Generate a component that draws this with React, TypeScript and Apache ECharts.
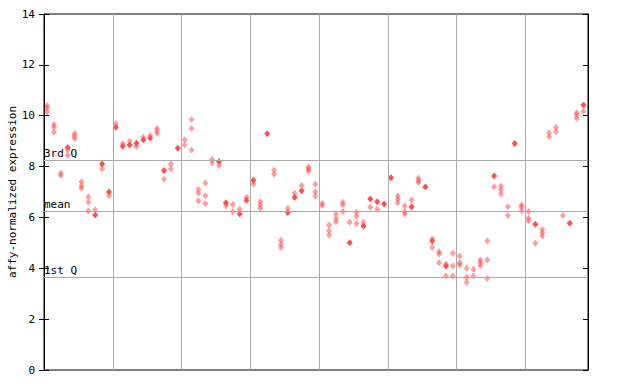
import React, { useEffect, useRef } from "react";
import * as echarts from "echarts";

// per-column values (checkered / light markers)
const hollowValues: number[][] = [
  [10.4, 10.3, 10.15], [9.65, 9.55, 9.35], [7.75, 7.65], [8.65, 8.45], [9.3, 9.2, 9.1],
  [7.4, 7.25, 7.15], [6.8, 6.6, 6.25], [6.3], [7.9], [6.85],
  [9.68], [8.9], [9.0], [8.78], [9.15],
  [9.22], [9.5, 9.4, 9.3], [7.5], [8.1, 7.9], [],
  [9.05, 8.85], [9.85, 9.5, 8.65], [7.1, 6.95, 6.65], [7.35, 6.85, 6.55], [8.28, 8.15],
  [8.03], [6.46], [6.51, 6.23], [6.32], [6.79],
  [7.3], [6.62, 6.49, 6.36], [], [7.86, 7.7], [5.1, 4.94, 4.82],
  [6.36], [6.95], [7.26], [7.98, 7.9, 7.82], [7.3, 7.01, 6.84],
  [6.55, 6.48], [5.7, 5.48, 5.31], [6.13, 5.96, 5.83], [6.6, 6.5, 6.23], [5.81],
  [6.2, 6.06, 5.76], [5.81], [6.4], [6.32], [],
  [], [6.84, 6.71, 6.58], [6.45, 6.23, 6.13], [6.69], [7.54, 7.45, 7.37],
  [], [5.15, 4.82], [4.65, 4.56, 4.22], [4.17, 3.7], [4.59, 4.09, 3.7],
  [4.48, 4.22, 4.13], [4.0, 3.65, 3.45], [3.96, 3.7], [4.33, 4.22, 4.1], [5.07, 4.33, 3.6],
  [7.21], [7.24, 7.08, 6.92], [6.42, 6.08], [], [6.49, 6.42, 6.26],
  [6.23, 5.97, 5.87], [4.98], [5.53, 5.4, 5.27], [9.33, 9.17], [9.54, 9.37],
  [6.08], [], [10.12, 10.03, 9.9], [10.17],
];

// per-column solid marker (null = none)
const solidValues: (number | null)[] = [
  null, null, null, 8.75, null, null, null, 6.1, 8.1, 7.0,
  9.55, 8.8, 8.85, 8.92, 9.05, 9.12, null, 7.85, null, 8.72,
  null, null, null, null, null, 8.19, 6.58, null, 6.13, 6.68,
  7.46, null, 9.29, null, null, 6.19, 6.78, 7.05, null, null,
  null, null, null, null, 5.0, null, 5.66, 6.72, 6.62, 6.53,
  7.56, null, null, 6.42, null, 7.2, 5.07, null, 4.09, null,
  null, null, null, null, null, 7.63, null, null, 8.91, null,
  null, 5.73, null, null, null, null, 5.77, null, 10.42,
];

const groupBoundaries = [10, 20, 30, 40, 50, 60, 70];
const refLines = [
  { name: "3rd Q", value: 8.25 },
  { name: "mean", value: 6.24 },
  { name: "1st Q", value: 3.64 },
];
const yTicks = { min: 0, max: 14, interval: 2 };
const yAxisName = "affy-normalized expression";

const RED = "#ff5050";
const GRID = "#aaaaaa";
const FONT = "DejaVu Sans Mono";

export default function App() {
  const ref = useRef<HTMLDivElement>(null);
  useEffect(() => {
    if (!ref.current) return;
    const chart = echarts.init(ref.current, undefined, { renderer: "svg" });
    const hollowData: number[][] = [];
    hollowValues.forEach((vals, i) => vals.forEach((v) => hollowData.push([i + 0.45, v])));
    const solidData: number[][] = [];
    solidValues.forEach((v, i) => {
      if (v !== null) solidData.push([i + 0.45, v]);
    });
    chart.setOption({
      animation: false,
      grid: {
        left: 44, top: 14, right: 52, bottom: 14,
        containLabel: false, outerBoundsMode: "none",
        show: true, borderColor: "#000", borderWidth: 1, backgroundColor: "#fff",
      },
      xAxis: {
        type: "value", min: 0, max: 79.1,
        axisLine: { show: false }, axisTick: { show: false },
        axisLabel: { show: false }, splitLine: { show: false },
      },
      yAxis: [
        {
          type: "value", ...yTicks, position: "left",
          name: yAxisName, nameLocation: "middle", nameGap: 26, nameMoveOverlap: false,
          nameTextStyle: { fontFamily: FONT, fontSize: 11, color: "#000" },
          axisLine: { show: true, lineStyle: { color: "#000" } },
          axisTick: { show: true, inside: false, length: 5, lineStyle: { color: "#000" } },
          axisLabel: { fontFamily: FONT, fontSize: 11, color: "#000", margin: 9 },
          splitLine: { show: false },
        },
        {
          type: "value", ...yTicks, position: "left",
          axisLine: { show: false },
          axisTick: { show: true, inside: true, length: 5, lineStyle: { color: "#000" } },
          axisLabel: { show: false }, splitLine: { show: false },
        },
        {
          type: "value", ...yTicks, position: "right",
          axisLine: { show: true, lineStyle: { color: "#000" } },
          axisTick: { show: true, inside: true, length: 5, lineStyle: { color: "#000" } },
          axisLabel: { show: false }, splitLine: { show: false },
        },
      ],
      series: [
        {
          type: "scatter", data: [], silent: true,
          markLine: {
            silent: true, symbol: "none", animation: false,
            lineStyle: { color: GRID, width: 1, type: "solid" },
            label: { show: false },
            data: groupBoundaries.map((x) => ({ xAxis: x })),
          },
        },
        {
          type: "scatter", data: [], silent: true,
          markLine: {
            silent: true, symbol: "none", animation: false,
            lineStyle: { color: GRID, width: 1, type: "solid" },
            label: {
              show: true, position: "insideStartTop", formatter: "{b}",
              fontFamily: FONT, fontSize: 11, color: "#000", distance: [0, 1],
            },
            data: refLines.map((r) => ({ name: r.name, yAxis: r.value })),
          },
        },
        {
          type: "scatter", data: hollowData, symbol: "diamond", symbolSize: [6, 7],
          itemStyle: { color: RED, opacity: 0.55 }, z: 3,
        },
        {
          type: "scatter", data: solidData, symbol: "diamond", symbolSize: [6, 7],
          itemStyle: { color: RED, opacity: 1 }, z: 4,
        },
      ],
    });
    return () => chart.dispose();
  }, []);
  return (
    <div
      ref={ref}
      style={{ position: "fixed", left: 0, top: 0, width: 640, height: 384, background: "#fff" }}
    />
  );
}
